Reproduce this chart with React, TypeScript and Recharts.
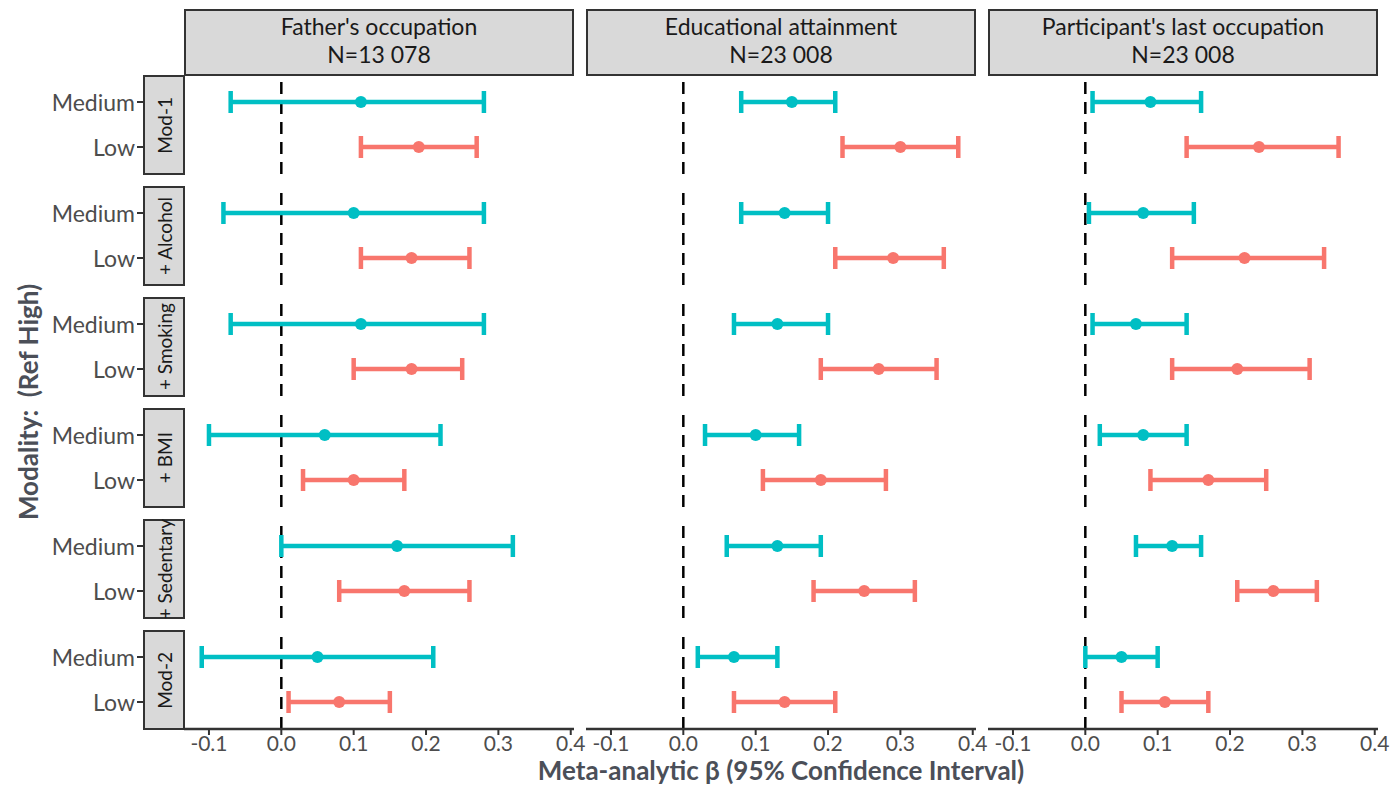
import React from "react";
import { ScatterChart, Scatter, XAxis, YAxis, ErrorBar, ReferenceLine } from "recharts";

// facets: columns = outcome, rows = model adjustment
const panels = ["Father's occupation", "Educational attainment", "Participant's last occupation"];
const panelN = ["N=13 078", "N=23 008", "N=23 008"];
const models = ["Mod-1", "+ Alcohol", "+ Smoking", "+ BMI", "+ Sedentary", "Mod-2"];
const levels = ["Medium", "Low"];
const xTicks = [-0.1, 0, 0.1, 0.2, 0.3, 0.4];

// [estimate, lower, upper] per model
const fatherMedium = [[0.11, -0.07, 0.28], [0.10, -0.08, 0.28], [0.11, -0.07, 0.28], [0.06, -0.10, 0.22], [0.16, 0.00, 0.32], [0.05, -0.11, 0.21]];
const fatherLow = [[0.19, 0.11, 0.27], [0.18, 0.11, 0.26], [0.18, 0.10, 0.25], [0.10, 0.03, 0.17], [0.17, 0.08, 0.26], [0.08, 0.01, 0.15]];
const educMedium = [[0.15, 0.08, 0.21], [0.14, 0.08, 0.20], [0.13, 0.07, 0.20], [0.10, 0.03, 0.16], [0.13, 0.06, 0.19], [0.07, 0.02, 0.13]];
const educLow = [[0.30, 0.22, 0.38], [0.29, 0.21, 0.36], [0.27, 0.19, 0.35], [0.19, 0.11, 0.28], [0.25, 0.18, 0.32], [0.14, 0.07, 0.21]];
const occMedium = [[0.09, 0.01, 0.16], [0.08, 0.005, 0.15], [0.07, 0.01, 0.14], [0.08, 0.02, 0.14], [0.12, 0.07, 0.16], [0.05, 0.00, 0.10]];
const occLow = [[0.24, 0.14, 0.35], [0.22, 0.12, 0.33], [0.21, 0.12, 0.31], [0.17, 0.09, 0.25], [0.26, 0.21, 0.32], [0.11, 0.05, 0.17]];

const series = [
  [fatherMedium, fatherLow],
  [educMedium, educLow],
  [occMedium, occLow],
];

const colors = ["#00BFC4", "#F8766D"];
const FONT = "Lato, 'Open Sans', sans-serif";
const GREY = "#4D4D4D";

// shared x scale, ggplot-style 5% expansion
const allBounds = series.flat(2).flatMap((r) => [r[1], r[2]]);
const xMin = Math.min(...allBounds);
const xMax = Math.max(...allBounds);
const pad = (xMax - xMin) * 0.05;
const X_DOMAIN = [xMin - pad, xMax + pad];

const PANEL_LEFT = [184, 586, 988];
const PANEL_W = 390;
const ROW_TOP = 75;
const ROW_H = 99;
const ROW_GAP = 12;
const STRIP_W = 41;

function LevelTick(props: any) {
  const { x, y, payload } = props;
  const label = levels[payload.value - 1];
  return (
    <g>
      <line x1={x - STRIP_W - 6} x2={x - STRIP_W} y1={y} y2={y} stroke="#333" strokeWidth={2} />
      <text x={x - STRIP_W - 8} y={y} textAnchor="end" dominantBaseline="central" fontSize={23} fill={GREY} fontFamily={FONT}>
        {label}
      </text>
    </g>
  );
}

function Facet({ p, m }: { p: number; m: number }) {
  const first = p === 0;
  const bottom = m === models.length - 1;
  const yAxisW = first ? PANEL_LEFT[0] : 0;
  const width = yAxisW + PANEL_W + 24;
  const height = ROW_H + (bottom ? 50 : 0);
  return (
    <div style={{ position: "absolute", left: first ? 0 : PANEL_LEFT[p], top: ROW_TOP + m * (ROW_H + ROW_GAP) }}>
      <ScatterChart width={width} height={height} margin={{ top: 0, right: 24, bottom: 0, left: 0 }}>
        <XAxis
          type="number"
          dataKey="x"
          domain={X_DOMAIN}
          allowDataOverflow
          ticks={xTicks}
          interval={0}
          hide={!bottom}
          height={50}
          tickFormatter={(v: number) => v.toFixed(1)}
          axisLine={{ stroke: "#333", strokeWidth: 2.5 }}
          tickLine={{ stroke: "#333", strokeWidth: 2 }}
          tickSize={6}
          tickMargin={1}
          tick={{ fontSize: 21, fill: GREY, fontFamily: FONT }}
        />
        <YAxis
          type="number"
          dataKey="y"
          domain={[0.4, 2.6]}
          reversed
          allowDataOverflow
          ticks={[1, 2]}
          interval={0}
          hide={!first}
          width={yAxisW}
          axisLine={false}
          tickLine={false}
          tickSize={0}
          tickMargin={0}
          tick={<LevelTick />}
        />
        <ReferenceLine x={0} stroke="#000" strokeWidth={2.5} strokeDasharray="12 8" />
        {levels.map((lv, li) => {
          const [est, lo, hi] = series[p][li][m];
          const data = [{ x: est, y: li + 1, err: [est - lo, hi - est] }];
          return (
            <Scatter
              key={lv}
              data={data}
              fill={colors[li]}
              isAnimationActive={false}
              shape={(s: any) => <circle cx={s.cx} cy={s.cy} r={6} fill={colors[li]} />}
            >
              <ErrorBar dataKey="err" direction="x" width={11} stroke={colors[li]} strokeWidth={4.5} isAnimationActive={false} />
            </Scatter>
          );
        })}
      </ScatterChart>
    </div>
  );
}

const stripBox: React.CSSProperties = {
  position: "absolute",
  boxSizing: "border-box",
  background: "#D9D9D9",
  border: "2px solid #333",
  color: "#1A1A1A",
  fontFamily: FONT,
};

export default function App() {
  return (
    <div style={{ position: "absolute", left: 0, top: 0, width: 1394, height: 787, background: "#fff", overflow: "hidden" }}>
      {panels.map((title, p) => (
        <div
          key={title}
          style={{
            ...stripBox,
            left: PANEL_LEFT[p],
            top: 9,
            width: PANEL_W,
            height: 67,
            fontSize: 23,
            lineHeight: "28px",
            textAlign: "center",
            paddingTop: 1,
          }}
        >
          <div>{title}</div>
          <div>{panelN[p]}</div>
        </div>
      ))}
      {models.map((mod, m) => (
        <div
          key={mod}
          style={{
            ...stripBox,
            left: PANEL_LEFT[0] - STRIP_W,
            top: ROW_TOP + m * (ROW_H + ROW_GAP),
            width: STRIP_W + 1,
            height: ROW_H + 1,
            display: "flex",
            alignItems: "center",
            justifyContent: "center",
            fontSize: 19,
          }}
        >
          <div style={{ writingMode: "vertical-rl", transform: "rotate(180deg)", whiteSpace: "nowrap" }}>{mod}</div>
        </div>
      ))}
      {panels.map((_, p) => models.map((__, m) => <Facet key={`${p}-${m}`} p={p} m={m} />))}
      <div
        style={{
          position: "absolute",
          left: 28 - 200,
          top: 402 - 15,
          width: 400,
          height: 30,
          lineHeight: "30px",
          transform: "rotate(-90deg)",
          textAlign: "center",
          fontFamily: FONT,
          fontWeight: 700,
          fontSize: 26,
          color: "#4B4F58",
          whiteSpace: "pre",
        }}
      >
        {"Modality:  (Ref High)"}
      </div>
      <div
        style={{
          position: "absolute",
          left: PANEL_LEFT[0],
          top: 756,
          width: PANEL_LEFT[2] + PANEL_W - PANEL_LEFT[0],
          lineHeight: "28px",
          textAlign: "center",
          fontFamily: FONT,
          fontWeight: 700,
          fontSize: 26,
          color: "#4B4F58",
        }}
      >
        Meta-analytic β (95% Confidence Interval)
      </div>
    </div>
  );
}
